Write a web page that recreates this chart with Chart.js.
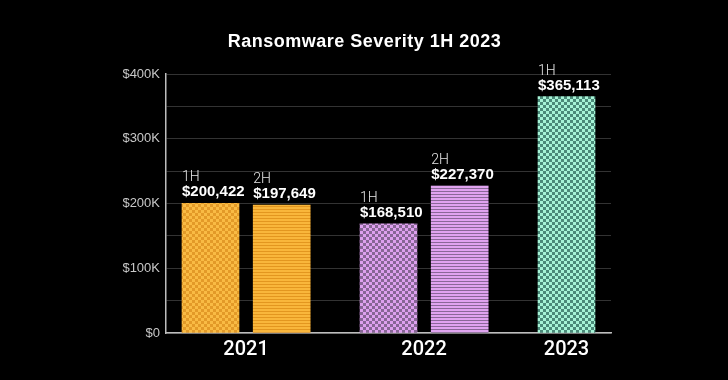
<!DOCTYPE html>
<html>
<head>
<meta charset="utf-8">
<script src="https://cdn.jsdelivr.net/npm/chart.js@4.4.0/dist/chart.umd.min.js"></script>
<style>
  html, body { margin: 0; padding: 0; background: #000; }
  #wrap { width: 728px; height: 380px; position: relative; }
</style>
</head>
<body>
<div id="wrap"><canvas id="c" width="728" height="380"></canvas></div>
<script>
// ---- data ----
const years = ['2021', '2022', '2023'];
const halves = ['1H', '2H'];
const firstHalf = [200422, 168510, 365113];
const secondHalf = [197649, 227370, null];
const yTickValues = [0, 100000, 200000, 300000, 400000];
const chartTitle = 'Ransomware Severity 1H 2023';

// ---- patterns ----
function checker(light, dark, cell) {
  const t = document.createElement('canvas');
  t.width = cell * 2; t.height = cell * 2;
  const g = t.getContext('2d');
  g.fillStyle = light; g.fillRect(0, 0, cell * 2, cell * 2);
  g.fillStyle = dark;
  g.fillRect(0, 0, cell, cell);
  g.fillRect(cell, cell, cell, cell);
  return g.createPattern(t, 'repeat');
}
function stripes(light, dark, lightH, darkH) {
  const t = document.createElement('canvas');
  t.width = 4; t.height = lightH + darkH;
  const g = t.getContext('2d');
  g.fillStyle = light; g.fillRect(0, 0, 4, lightH + darkH);
  g.fillStyle = dark; g.fillRect(0, lightH, 4, darkH);
  return g.createPattern(t, 'repeat');
}
const fillsH1 = [
  checker('#f9bb44', '#e39a28', 3),
  checker('#dda0ee', '#876695', 3),
  checker('#a6f3d6', '#4b8a79', 3)
];
const fillsH2 = [
  stripes('#f9b63b', '#e3961f', 2, 1),
  stripes('#e0a3f0', '#8a6898', 2, 1),
  stripes('#a6f3d6', '#4b8a79', 2, 1)
];

// ---- slot layout on a category axis (layout only) ----
const SLOTS = 25, LEAD = 2, PAIR = 4, GROUP = 10;
const slotLabels = new Array(SLOTS).fill('');
const h1Slots = new Array(SLOTS).fill(null);
const h2Slots = new Array(SLOTS).fill(null);
const h1Fill = new Array(SLOTS).fill('#000');
const h2Fill = new Array(SLOTS).fill('#000');
years.forEach((y, k) => {
  const p = LEAD + k * GROUP;
  h1Slots[p] = firstHalf[k]; h1Fill[p] = fillsH1[k];
  if (secondHalf[k] != null) {
    h2Slots[p + PAIR] = secondHalf[k]; h2Fill[p + PAIR] = fillsH2[k];
    slotLabels[p + PAIR / 2] = y;
  } else {
    slotLabels[p] = y;
  }
});

const titlePlugin = {
  id: 'centerTitle',
  afterDraw(chart) {
    const ctx = chart.ctx;
    ctx.save();
    ctx.fillStyle = '#ffffff';
    ctx.font = '700 18px "Liberation Sans", Arial, sans-serif';
    try { ctx.letterSpacing = '0.5px'; } catch (e) {}
    ctx.textAlign = 'center';
    ctx.textBaseline = 'alphabetic';
    ctx.fillText(chartTitle, chart.width / 2 + 0.5, 46.5);
    ctx.restore();
  }
};

const barLabels = {
  id: 'barLabels',
  afterDatasetsDraw(chart) {
    const ctx = chart.ctx;
    ctx.save();
    ctx.textAlign = 'left';
    ctx.textBaseline = 'alphabetic';
    chart.data.datasets.forEach((ds, di) => {
      const meta = chart.getDatasetMeta(di);
      meta.data.forEach((el, i) => {
        const v = ds.data[i];
        if (v == null) return;
        const xl = el.x - el.width / 2;
        ctx.fillStyle = '#e6e6e6';
        ctx.font = '300 14px Roboto, "Liberation Sans", sans-serif';
        ctx.fillText(halves[di], xl, el.y - 22);
        ctx.fillStyle = '#ffffff';
        ctx.font = '700 15px "Liberation Sans", Arial, sans-serif';
        ctx.fillText('$' + v.toLocaleString('en-US'), xl, el.y - 7);
      });
    });
    ctx.restore();
  }
};

new Chart(document.getElementById('c'), {
  type: 'bar',
  data: {
    labels: slotLabels,
    datasets: [
      { label: halves[0], data: h1Slots, backgroundColor: h1Fill, grouped: false, barThickness: 57 },
      { label: halves[1], data: h2Slots, backgroundColor: h2Fill, grouped: false, barThickness: 57 }
    ]
  },
  options: {
    responsive: false,
    animation: false,
    layout: { padding: { left: 0, right: 117, top: 74, bottom: 0 } },
    plugins: {
      legend: { display: false },
      tooltip: { enabled: false },
      title: { display: false }
    },
    scales: {
      x: {
        grid: { display: false, drawTicks: false },
        border: { color: '#bdbdbd', width: 1.5 },
        ticks: {
          color: '#ffffff',
          autoSkip: false,
          maxRotation: 0,
          padding: 5,
          font: { family: 'Roboto, "Liberation Sans", sans-serif', size: 20, weight: '500' }
        },
        afterFit(s) { s.height = 47; }
      },
      y: {
        min: 0,
        max: 400000,
        grid: { color: '#333333', lineWidth: 1, drawTicks: false },
        border: { color: '#bdbdbd', width: 1.5 },
        ticks: {
          stepSize: 50000,
          padding: 6,
          color: '#c8c8c8',
          font: { family: '"Liberation Sans", Arial, sans-serif', size: 13 },
          callback: (v) => yTickValues.includes(v) ? (v === 0 ? '$0' : '$' + (v / 1000) + 'K') : ''
        },
        afterFit(s) { s.width = 166; }
      }
    }
  },
  plugins: [barLabels, titlePlugin]
});
</script>
</body>
</html>
